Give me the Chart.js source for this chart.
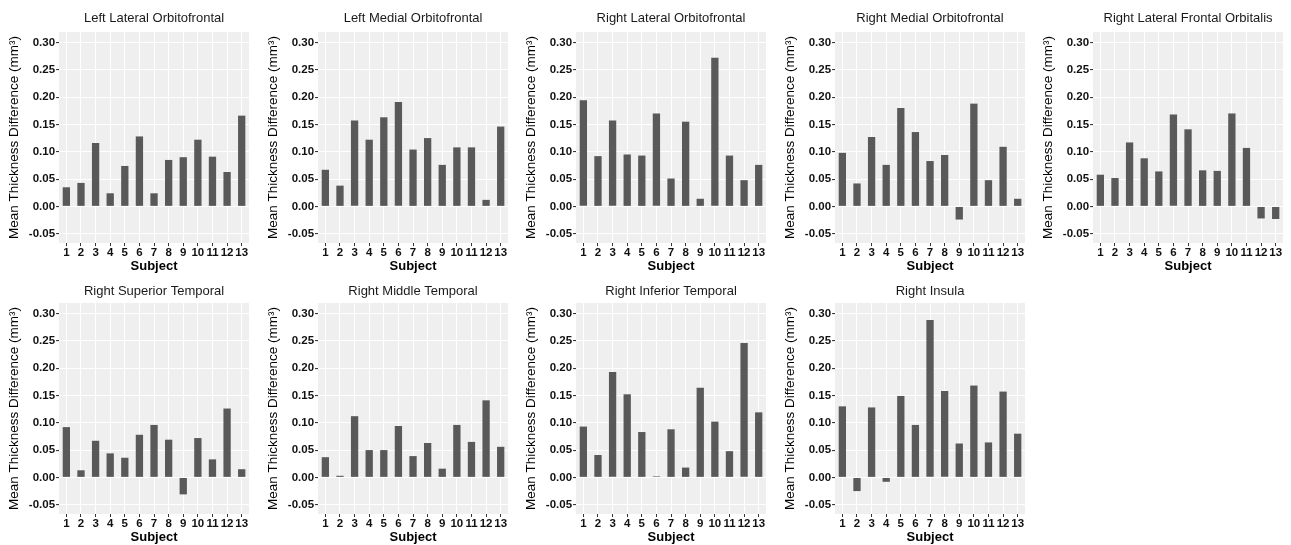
<!DOCTYPE html>
<html>
<head>
<meta charset="utf-8">
<script src="https://cdn.jsdelivr.net/npm/chart.js@4/dist/chart.umd.min.js"></script>
<style>
  html, body { margin: 0; padding: 0; background: #fff; }
  #wrap { position: relative; width: 1291px; height: 545px; overflow: hidden; }
  .panel { position: absolute; width: 257px; }
</style>
</head>
<body>
<div id="wrap"></div>
<script>
"use strict";

// data -----------------------------------
const subjects = ["1", "2", "3", "4", "5", "6", "7", "8", "9", "10", "11", "12", "13"];

const yTickValues = [-0.05, 0, 0.05, 0.1, 0.15, 0.2, 0.25, 0.3];
const yTickLabels = ["-0.05", "0.00", "0.05", "0.10", "0.15", "0.20", "0.25", "0.30"];

const leftLateralOrbitofrontal = [0.035, 0.043, 0.116, 0.024, 0.074, 0.128, 0.024, 0.085, 0.090, 0.122, 0.091, 0.063, 0.166];
const leftMedialOrbitofrontal = [0.067, 0.038, 0.157, 0.122, 0.163, 0.191, 0.104, 0.125, 0.076, 0.108, 0.108, 0.012, 0.146];
const rightLateralOrbitofrontal = [0.194, 0.092, 0.157, 0.095, 0.093, 0.170, 0.051, 0.155, 0.014, 0.272, 0.093, 0.048, 0.076];
const rightMedialOrbitofrontal = [0.098, 0.042, 0.127, 0.076, 0.180, 0.136, 0.083, 0.094, -0.024, 0.188, 0.048, 0.109, 0.014];
const rightLateralFrontalOrbitalis = [0.058, 0.052, 0.117, 0.088, 0.064, 0.168, 0.141, 0.066, 0.065, 0.170, 0.107, -0.022, -0.023];
const rightSuperiorTemporal = [0.092, 0.013, 0.067, 0.044, 0.036, 0.078, 0.096, 0.069, -0.031, 0.072, 0.033, 0.126, 0.015];
const rightMiddleTemporal = [0.037, 0.003, 0.112, 0.050, 0.050, 0.094, 0.039, 0.063, 0.016, 0.096, 0.065, 0.141, 0.056];
const rightInferiorTemporal = [0.093, 0.041, 0.193, 0.152, 0.083, 0.002, 0.088, 0.018, 0.164, 0.102, 0.048, 0.246, 0.119];
const rightInsula = [0.130, -0.025, 0.128, -0.008, 0.149, 0.096, 0.288, 0.158, 0.062, 0.168, 0.064, 0.157, 0.080];

const regionTitles = [
  "Left Lateral Orbitofrontal",
  "Left Medial Orbitofrontal",
  "Right Lateral Orbitofrontal",
  "Right Medial Orbitofrontal",
  "Right Lateral Frontal Orbitalis",
  "Right Superior Temporal",
  "Right Middle Temporal",
  "Right Inferior Temporal",
  "Right Insula",
];
const regionValues = [
  leftLateralOrbitofrontal,
  leftMedialOrbitofrontal,
  rightLateralOrbitofrontal,
  rightMedialOrbitofrontal,
  rightLateralFrontalOrbitalis,
  rightSuperiorTemporal,
  rightMiddleTemporal,
  rightInferiorTemporal,
  rightInsula,
];

// grid lines: major ticks plus minor lines halfway between
const gridValues = [];
yTickValues.forEach((v, i) => {
  gridValues.push(v);
  if (i < yTickValues.length - 1) gridValues.push((v + yTickValues[i + 1]) / 2);
});

function majorIndex(value) {
  return yTickValues.findIndex((v) => Math.abs(v - value) < 1e-6);
}

const FONT = "'Liberation Sans', Arial, sans-serif";

// panel background (ggplot grey) and title centred over the plot area
const panelDecor = {
  id: "panelDecor",
  beforeDraw(chart) {
    const a = chart.chartArea;
    const ctx = chart.ctx;
    ctx.save();
    ctx.fillStyle = "#efefef";
    ctx.fillRect(a.left, a.top, a.right - a.left, a.bottom - a.top);
    ctx.restore();
  },
  afterDraw(chart, args, opts) {
    const a = chart.chartArea;
    const ctx = chart.ctx;
    ctx.save();
    ctx.font = "13px " + FONT;
    ctx.fillStyle = "#1a1a1a";
    ctx.textAlign = "center";
    ctx.textBaseline = "middle";
    ctx.fillText(opts.text, (a.left + a.right) / 2, opts.y);
    ctx.restore();
  },
};

const wrap = document.getElementById("wrap");

regionTitles.forEach((title, i) => {
  const row = Math.floor(i / 5);
  const col = i % 5;
  const box = document.createElement("div");
  box.className = "panel";
  box.style.left = Math.round(col * 258.5) + "px";
  box.style.top = row * 272 + "px";
  box.style.height = (row === 0 ? 274 : 273) + "px";
  const canvas = document.createElement("canvas");
  box.appendChild(canvas);
  wrap.appendChild(box);

  new Chart(canvas, {
    type: "bar",
    data: {
      labels: subjects,
      datasets: [
        {
          data: regionValues[i],
          backgroundColor: "#595959",
          borderWidth: 0,
          barPercentage: 0.5,
          categoryPercentage: 1,
        },
      ],
    },
    options: {
      responsive: true,
      maintainAspectRatio: false,
      animation: false,
      layout: {
        padding: { left: 7, right: 8, top: row === 0 ? 32 : 31, bottom: 0 },
      },
      scales: {
        x: {
          offset: true,
          border: { display: false },
          grid: {
            offset: false,
            color: "#ffffff",
            lineWidth: 1,
            drawTicks: true,
            tickLength: 3,
            tickColor: "#333333",
          },
          ticks: {
            padding: 0,
            color: "#111111",
            maxRotation: 0,
            autoSkip: false,
            font: { family: FONT, size: 11.5, weight: "bold", lineHeight: 1.1 },
          },
          title: {
            display: true,
            text: "Subject",
            color: "#000000",
            padding: { top: 1, bottom: 0 },
            font: { family: FONT, size: 13, weight: "bold", lineHeight: 1.1 },
          },
        },
        y: {
          min: -0.067,
          max: 0.319,
          border: { display: false },
          afterBuildTicks: (scale) => {
            scale.ticks = gridValues.map((v) => ({ value: v }));
          },
          grid: {
            color: "#ffffff",
            lineWidth: (ctx) => (ctx.tick && majorIndex(ctx.tick.value) >= 0 ? 1.1 : 0.6),
            drawTicks: true,
            tickLength: 3,
            tickColor: (ctx) =>
              ctx.tick && majorIndex(ctx.tick.value) >= 0 ? "#333333" : "rgba(0,0,0,0)",
          },
          ticks: {
            padding: 1,
            color: "#111111",
            font: { family: FONT, size: 11.5, weight: "bold" },
            callback: (value) => {
              const k = majorIndex(value);
              return k >= 0 ? yTickLabels[k] : "";
            },
          },
          title: {
            display: true,
            text: "Mean Thickness Difference (mm\u00b3)",
            color: "#000000",
            padding: { top: 0, bottom: 6 },
            font: { family: FONT, size: 13.5, weight: "normal", lineHeight: 1.1 },
          },
        },
      },
      plugins: {
        legend: { display: false },
        tooltip: { enabled: false },
        title: { display: false },
        panelDecor: { text: title, y: row === 0 ? 18 : 19 },
      },
    },
    plugins: [panelDecor],
  });
});
</script>
</body>
</html>
